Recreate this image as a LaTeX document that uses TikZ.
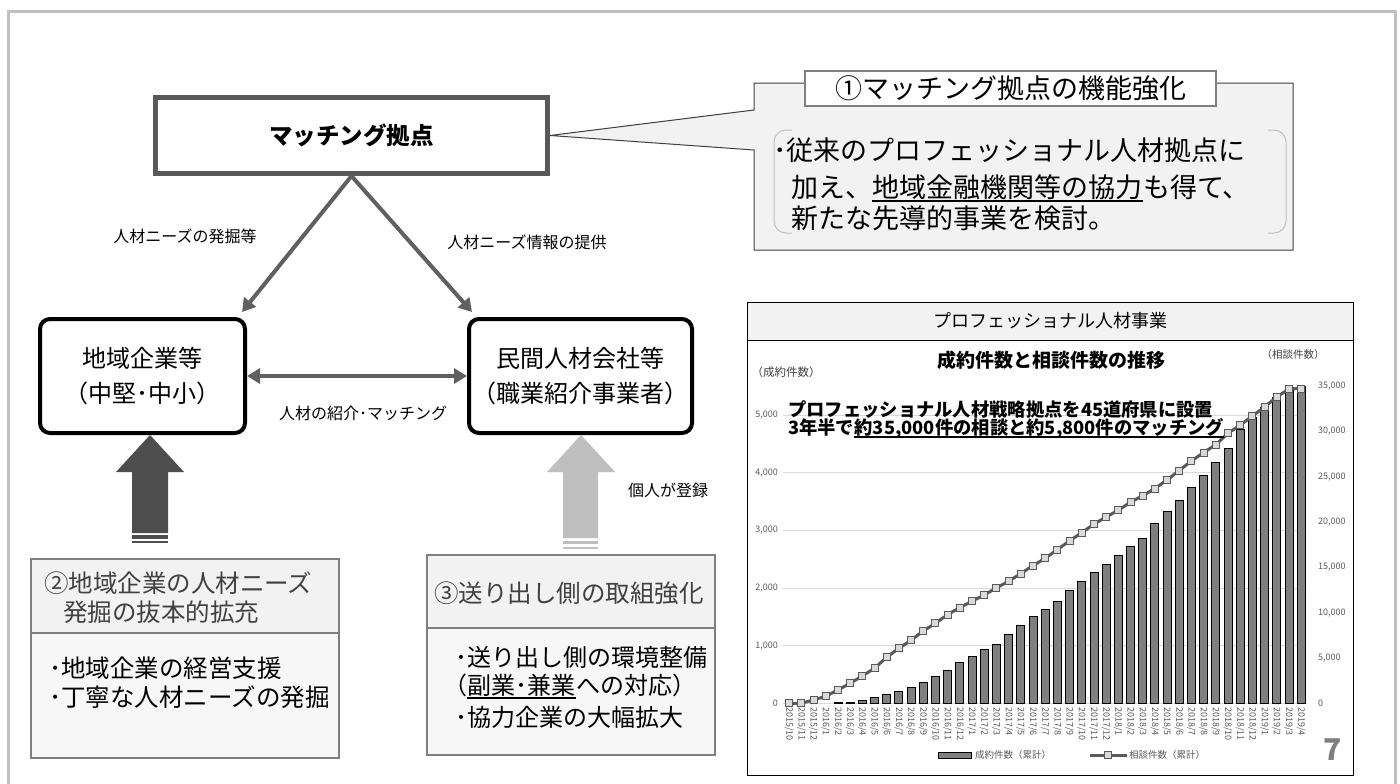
\documentclass[tikz,border=0pt]{standalone}
\usepackage{fontspec}
\setmainfont{Noto Sans CJK JP}
\usetikzlibrary{arrows.meta}
\definecolor{cOuter}{HTML}{C0C0C0}
\definecolor{cHub}{HTML}{595959}
\definecolor{cArr}{HTML}{606060}
\definecolor{cDark}{HTML}{4D4D4D}
\definecolor{cLight}{HTML}{BFBFBF}
\definecolor{cFill}{HTML}{F2F2F2}
\definecolor{cBody}{HTML}{F7F7F7}
\definecolor{cMid}{HTML}{7F7F7F}
\definecolor{cGrid}{HTML}{D9D9D9}
\definecolor{cTxt}{HTML}{404040}
\definecolor{cAx}{HTML}{595959}
\newcommand{\setfs}[1]{\fontsize{#1}{#1}\selectfont}
\begin{document}
\begin{tikzpicture}[x=1pt,y=-1pt,
  every node/.style={inner sep=0pt},
  conn/.style={draw=cArr, line width=4pt, -{Triangle[length=13pt,width=15pt]}},
  lbl/.style={font=\setfs{16}},
  boxtxt/.style={font=\setfs{24}},
  bigbox/.style={draw=black, line width=4pt, rounded corners=10pt, fill=white},
  panel/.style={draw=cMid, line width=1.5pt},
  axl/.style={font=\setfs{9}, text=cAx},
  barst/.style={draw=black, line width=0.7pt, fill=cMid},
  lnst/.style={draw=cHub, line width=3pt, line join=round},
  mk/.style={draw=cHub, line width=0.8pt, fill=cGrid, minimum size=7pt, rectangle}
]
\useasboundingbox (0,0) rectangle (1400,784);
\fill[white] (0,0) rectangle (1400,784);
\draw[cOuter, line width=3pt] (8,800) -- (8,12) -- (1395,12) -- (1395,800);

% ---------- hub ----------
\node[draw=cHub, line width=5pt, fill=white, minimum width=392pt, minimum height=76pt,
      font=\bfseries\setfs{23.5}] (hub) at (351.5,135.5) {マッチング拠点};

% ---------- callout ----------
\path[fill=cFill, draw=cTxt, line width=1pt]
  (754,83) -- (1293,83) -- (1293,250) -- (754,250) -- (754,150) -- (hub.east) -- (754,110) -- cycle;
\node[draw=cMid, line width=2pt, fill=white, minimum width=411pt, minimum height=35pt,
      font=\setfs{27}] (ctitle) at (1010.5,88.5) {①マッチング拠点の機能強化};
\draw[cLight, line width=1pt, rounded corners=12pt] (792,130) -- (774,130) -- (774,233) -- (792,233);
\draw[cLight, line width=1pt, rounded corners=12pt] (1268,130) -- (1286,130) -- (1286,233) -- (1268,233);
\node[anchor=base west, font=\setfs{27}] (cl1) at (773,160) {･従来のプロフェッショナル人材拠点に};
\node[anchor=base west, font=\setfs{27}] (cl2a) at (791,197) {加え、};
\node[anchor=base west, font=\setfs{27}] (cl2b) at (cl2a.base east) {地域金融機関等の協力};
\node[anchor=base west, font=\setfs{27}] (cl2c) at (cl2b.base east) {も得て、};
\draw[black, line width=1.3pt] ([yshift=-4pt]cl2b.base west) -- ([yshift=-4pt]cl2b.base east);
\node[anchor=base west, font=\setfs{27}] (cl3) at (791,228) {新たな先導的事業を検討。};

% ---------- two actors ----------
\node[bigbox, minimum width=205pt, minimum height=114pt] (loc) at (142.5,376) {};
\node[bigbox, minimum width=223pt, minimum height=114pt] (pro) at (580.5,376) {};
\node[boxtxt] (loc1) at (142.5,358) {地域企業等};
\node[boxtxt] (loc2) at (142.5,393) {（中堅･中小）};
\node[boxtxt] (pro1) at (580.5,358) {民間人材会社等};
\node[boxtxt] (pro2) at (580.5,393) {（職業紹介事業者）};

\draw[conn] (hub.south) -- ([shift={(-5,-5)}]loc.north east);
\draw[conn] (hub.south) -- ([shift={(5,-5)}]pro.north west);
\draw[conn, {Triangle[length=13pt,width=15pt]}-{Triangle[length=13pt,width=15pt]}] (loc.east) -- (pro.west);

\node[lbl] (l1) at (185,236) {人材ニーズの発掘等};
\node[lbl] (l2) at (527,242) {人材ニーズ情報の提供};
\node[lbl] (l3) at (363,413) {人材の紹介･マッチング};
\node[lbl] (l4) at (668,490) {個人が登録};

% ---------- block arrows ----------
\fill[cDark] (150,435) -- (184,472) -- (168,472) -- (168,533) -- (132,533) -- (132,472) -- (116,472) -- cycle;
\fill[cDark] (132,535) rectangle (168,539);
\fill[cDark] (132,541) rectangle (168,543);
\fill[cLight] (581,435) -- (615,472) -- (598,472) -- (598,538) -- (563,538) -- (563,472) -- (547,472) -- cycle;
\fill[cLight] (563,541) rectangle (598,544);
\fill[cLight] (563,547) rectangle (598,549);

% ---------- bottom panels ----------
\draw[panel, fill=cBody] (31,559) rectangle (339,758);
\draw[panel, fill=cFill] (31,559) rectangle (339,633);
\node[anchor=west, font=\setfs{24.5}, text=cTxt] (p2a) at (44,583) {②地域企業の人材ニーズ};
\node[anchor=west, font=\setfs{24.5}, text=cTxt] (p2b) at (63,612) {発掘の抜本的拡充};
\node[anchor=west, font=\setfs{24.5}] (p2c) at (49,668) {･地域企業の経営支援};
\node[anchor=west, font=\setfs{24.5}] (p2d) at (49,697) {･丁寧な人材ニーズの発掘};

\draw[panel, fill=cBody] (427,555) rectangle (715,755);
\draw[panel, fill=cFill] (427,555) rectangle (715,628);
\node[anchor=west, font=\setfs{24.5}, text=cTxt] (p3a) at (434,593) {③送り出し側の取組強化};
\node[anchor=west, font=\setfs{24}] (p3b) at (455,657) {･送り出し側の環境整備};
\node[anchor=base west, font=\setfs{24}] (p3c1) at (443,694) {（};
\node[anchor=base west, font=\setfs{24}] (p3c2) at (p3c1.base east) {副業･兼業};
\node[anchor=base west, font=\setfs{24}] (p3c3) at (p3c2.base east) {への対応）};
\draw[black, line width=1.2pt] ([yshift=-4pt]p3c2.base west) -- ([yshift=-4pt]p3c2.base east);
\node[anchor=west, font=\setfs{24}] (p3d) at (455,717) {･協力企業の大幅拡大};

% ---------- chart ----------
\draw[black, line width=1pt, fill=white] (747,302) rectangle (1353,775);
\draw[black, line width=1pt, fill=cFill] (747,302) rectangle (1353,340);
\node[font=\setfs{18}] (ctit) at (1050,321) {プロフェッショナル人材事業};
\node[font=\bfseries\setfs{19}] (csub) at (1051,360) {成約件数と相談件数の推移};
\node[font=\setfs{11.5}, text=cTxt] (yl) at (786,372) {（成約件数）};
\node[font=\setfs{10.5}, text=cTxt] (yr) at (1293,355) {（相談件数）};

\foreach \v/\t in {0/0,1/{1,000},2/{2,000},3/{3,000},4/{4,000},5/{5,000}} {
  \draw[cGrid, line width=1pt] (783,{703.3-57.6*\v}) -- (1307,{703.3-57.6*\v});
  \node[axl, anchor=east] (la\v) at (778,{703.3-57.6*\v}) {\t};
}
\foreach \v/\t in {0/0,1/{5,000},2/{10,000},3/{15,000},4/{20,000},5/{25,000},6/{30,000},7/{35,000}} {
  \node[axl, anchor=west] (ra\v) at (1318,{703.3-45.3*\v}) {\t};
}

\foreach \i/\v in {4/10,5/25,6/60,7/95,8/150,9/210,10/280,11/365,12/470,13/580,14/705,15/815,16/930,17/1030,18/1200,19/1355,20/1510,21/1635,22/1775,23/1955,24/2120,25/2270,26/2420,27/2565,28/2730,29/2870,30/3130,31/3330,32/3530,33/3750,34/3955,35/4180,36/4430,37/4750,38/4970,39/5140,40/5320,41/5490,42/5500} {
  \draw[barst] ({789.1+12.19*\i-4},703.3) rectangle ({789.1+12.19*\i+4},{703.3-0.0576*\v});
}

\draw[lnst] (789.1,703.3) \foreach \i/\v in {1/0,2/0.37,3/0.77,4/1.47,5/2.2,6/3.02,7/3.86,8/5.08,9/6.07,10/6.95,11/7.98,12/8.83,13/9.79,14/10.56,15/11.26,16/11.96,17/12.73,18/13.47,19/14.31,20/15.2,21/16.0,22/16.96,23/17.92,24/18.84,25/19.76,26/20.57,27/21.3,28/22.19,29/22.92,30/23.7,31/24.65,32/25.69,33/26.75,34/27.67,35/28.55,36/29.8,37/30.7,38/31.71,39/32.7,40/33.81,41/34.69,42/34.75} { -- ({789.1+12.19*\i},{703.3-9.06*\v}) };
\foreach \i/\v in {0/0,1/0,2/0.37,3/0.77,4/1.47,5/2.2,6/3.02,7/3.86,8/5.08,9/6.07,10/6.95,11/7.98,12/8.83,13/9.79,14/10.56,15/11.26,16/11.96,17/12.73,18/13.47,19/14.31,20/15.2,21/16.0,22/16.96,23/17.92,24/18.84,25/19.76,26/20.57,27/21.3,28/22.19,29/22.92,30/23.7,31/24.65,32/25.69,33/26.75,34/27.67,35/28.55,36/29.8,37/30.7,38/31.71,39/32.7,40/33.81,41/34.69,42/34.75} {
  \node[mk] (m\i) at ({789.1+12.19*\i},{703.3-9.06*\v}) {};
}

\foreach \i in {0,...,42} {
  \pgfmathtruncatemacro\yy{2015+int((9+\i)/12)}
  \pgfmathtruncatemacro\mm{mod(9+\i,12)+1}
  \node[axl, rotate=-90, anchor=west] (d\i) at ({789.1+12.19*\i},707) {\yy/\mm};
}

\node[anchor=west, font=\bfseries\setfs{18.3}] (big1) at (788,410) {プロフェッショナル人材戦略拠点を45道府県に設置};
\node[anchor=base west, font=\bfseries\setfs{18.3}] (big2a) at (788,434) {3年半で};
\node[anchor=base west, font=\bfseries\setfs{18.3}] (big2b) at (big2a.base east) {約35,000件の相談と約5,800件のマッチング};
\draw[black, line width=2pt] ([yshift=-3pt]big2b.base west) -- ([yshift=-3pt]big2b.base east);

% legend
\draw[barst] (938,752) rectangle (971,758);
\node[anchor=west, font=\setfs{9.5}, text=cAx] (lg1) at (975,755) {成約件数（累計）};
\draw[lnst] (1090,755) -- (1127,755);
\node[mk] (lgm) at (1108,755) {};
\node[anchor=west, font=\setfs{9.5}, text=cAx] (lg2) at (1129,755) {相談件数（累計）};

\node[font=\bfseries\setfs{30}, text=cMid] (pg) at (1333,750) {7};
\end{tikzpicture}
\end{document}
